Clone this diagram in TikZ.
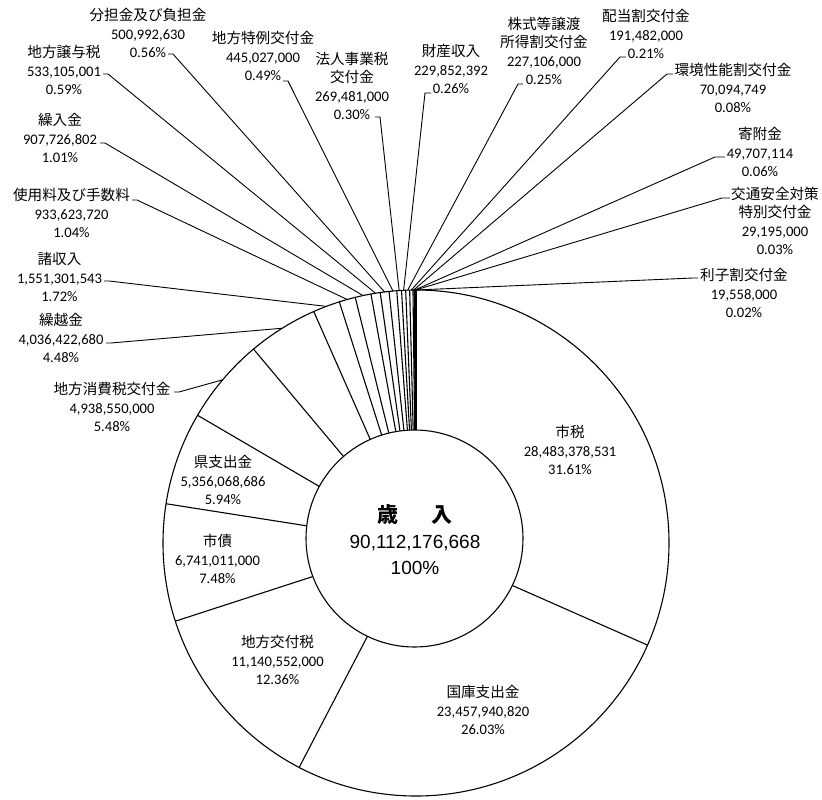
\documentclass[tikz,border=0pt]{standalone}
\usepackage{fontspec}
\setmainfont{Carlito}
\newfontfamily\jpfont{Noto Sans CJK JP}
\newfontfamily\arialfont{Liberation Sans}
\newcommand\jp[1]{{\jpfont #1}}
\tikzset{
  lbl/.style={align=center, inner sep=0pt, font=\fontsize{14.6}{18.4}\selectfont},
  leader/.style={line width=0.9pt},
  slice/.style={line width=1.1pt},
}
\begin{document}
\begin{tikzpicture}[x=1pt,y=1pt]
\useasboundingbox (0,0) rectangle (822,-800);
\fill[white] (0,0) rectangle (822,-800);
\coordinate (C) at (416,-543);
\coordinate (H) at (414.5,-538.5);
% slice boundaries
\foreach \c in {0,31.61,57.64,70.00,77.48,83.42,88.90,93.38,95.10,96.14,97.15,97.74,98.30,98.79,99.09,99.35,99.60,99.81,99.89,99.95,99.98}
  \draw[slice] (C) -- ([shift={({90-3.6*\c}:253pt)}]C);
\draw[slice] (C) circle (253pt);
\node[circle, draw, fill=white, minimum size=217pt, inner sep=0pt, slice] (hole) at (H) {};
% pie edge points (slice mid angles)
\coordinate (p-bt) at ([shift={({90-3.6*98.02}:253pt)}]C);
\coordinate (p-jy) at ([shift={({90-3.6*97.445}:253pt)}]C);
\coordinate (p-tt) at ([shift={({90-3.6*98.545}:253pt)}]C);
\coordinate (p-hj) at ([shift={({90-3.6*98.94}:253pt)}]C);
\coordinate (p-kn) at ([shift={({90-3.6*96.645}:253pt)}]C);
\coordinate (p-sy) at ([shift={({90-3.6*95.62}:253pt)}]C);
\coordinate (p-ss) at ([shift={({90-3.6*94.24}:253pt)}]C);
\coordinate (p-kk) at ([shift={({90-3.6*91.14}:253pt)}]C);
\coordinate (p-ch) at ([shift={({90-3.6*86.16}:253pt)}]C);
\coordinate (p-zs) at ([shift={({90-3.6*99.22}:253pt)}]C);
\coordinate (p-kb) at ([shift={({90-3.6*99.475}:253pt)}]C);
\coordinate (p-hw) at ([shift={({90-3.6*99.705}:253pt)}]C);
\coordinate (p-ks) at ([shift={({90-3.6*99.85}:253pt)}]C);
\coordinate (p-kf) at ([shift={({90-3.6*99.92}:253pt)}]C);
\coordinate (p-ka) at ([shift={({90-3.6*99.965}:253pt)}]C);
\coordinate (p-rs) at ([shift={({90-3.6*99.99}:253pt)}]C);
% centre text
\node[align=center, inner sep=0pt, font=\fontsize{19}{26}\selectfont\arialfont] (ctr) at (415,-540)
  {{\fontsize{21}{26}\selectfont\jpfont\bfseries 歳\hspace{1.6em}入}\\90,112,176,668\\100\%};
% inside labels
\node[lbl] (t-sz) at (570,-450) {\jp{市税}\\28,483,378,531\\31.61\%};
\node[lbl] (t-kc) at (483,-710) {\jp{国庫支出金}\\23,457,940,820\\26.03\%};
\node[lbl] (t-ck) at (277.5,-660) {\jp{地方交付税}\\11,140,552,000\\12.36\%};
\node[lbl] (t-sa) at (217.5,-559) {\jp{市債}\\6,741,011,000\\7.48\%};
\node[lbl] (t-ks) at (223,-480) {\jp{県支出金}\\5,356,068,686\\5.94\%};
% outside labels, left
\node[lbl] (t-bt) at (148,-33) {\jp{分担金及び負担金}\\500,992,630\\0.56\%};
\node[lbl] (t-jy) at (64,-70) {\jp{地方譲与税}\\533,105,001\\0.59\%};
\node[lbl] (t-tt) at (263,-56) {\jp{地方特例交付金}\\445,027,000\\0.49\%};
\node[lbl] (t-hj) at (352,-86) {\jp{法人事業税}\\\jp{交付金}\\269,481,000\\0.30\%};
\node[lbl] (t-kn) at (60,-138) {\jp{繰入金}\\907,726,802\\1.01\%};
\node[lbl] (t-sy) at (71.5,-213) {\jp{使用料及び手数料}\\933,623,720\\1.04\%};
\node[lbl] (t-ss) at (59.5,-277) {\jp{諸収入}\\1,551,301,543\\1.72\%};
\node[lbl] (t-kk) at (61,-338) {\jp{繰越金}\\4,036,422,680\\4.48\%};
\node[lbl] (t-ch) at (112,-407) {\jp{地方消費税交付金}\\4,938,550,000\\5.48\%};
% outside labels, right
\node[lbl] (t-zs) at (451,-69) {\jp{財産収入}\\229,852,392\\0.26\%};
\node[lbl] (t-kb) at (544,-51) {\jp{株式等譲渡}\\\jp{所得割交付金}\\227,106,000\\0.25\%};
\node[lbl] (t-hw) at (646,-34) {\jp{配当割交付金}\\191,482,000\\0.21\%};
\node[lbl] (t-kse) at (733,-88) {\jp{環境性能割交付金}\\70,094,749\\0.08\%};
\node[lbl] (t-kf) at (760,-152) {\jp{寄附金}\\49,707,114\\0.06\%};
\node[lbl] (t-ka) at (775,-221) {\jp{交通安全対策}\\\jp{特別交付金}\\29,195,000\\0.03\%};
\node[lbl] (t-rs) at (744,-293) {\jp{利子割交付金}\\19,558,000\\0.02\%};
% leader start points
\coordinate (s-bt) at (168,-54);
\coordinate (s-jy) at (103,-74);
\coordinate (s-tt) at (283,-81);
\coordinate (s-hj) at (375,-117);
\coordinate (s-kn) at (100,-143);
\coordinate (s-sy) at (132,-200);
\coordinate (s-ss) at (104,-281);
\coordinate (s-kk) at (106,-343);
\coordinate (s-ch) at (174,-392);
\coordinate (s-zs) at (431,-93);
\coordinate (s-kb) at (523,-84);
\coordinate (s-hw) at (626,-57);
\coordinate (s-ks) at (673,-74);
\coordinate (s-kf) at (725,-157);
\coordinate (s-ka) at (730,-198);
\coordinate (s-rs) at (698,-278);
% leaders
\foreach \n in {bt,jy,tt,hj,kn,sy,ss,kk,ch}
  \draw[leader] (s-\n) -- ++(5,0) -- (p-\n);
\foreach \n/\k in {zs/6,kb/5,hw/6,ks/6,kf/10,ka/8,rs/5}
  \draw[leader] (s-\n) -- ++(-\k,0) -- (p-\n);
\end{tikzpicture}
\end{document}
